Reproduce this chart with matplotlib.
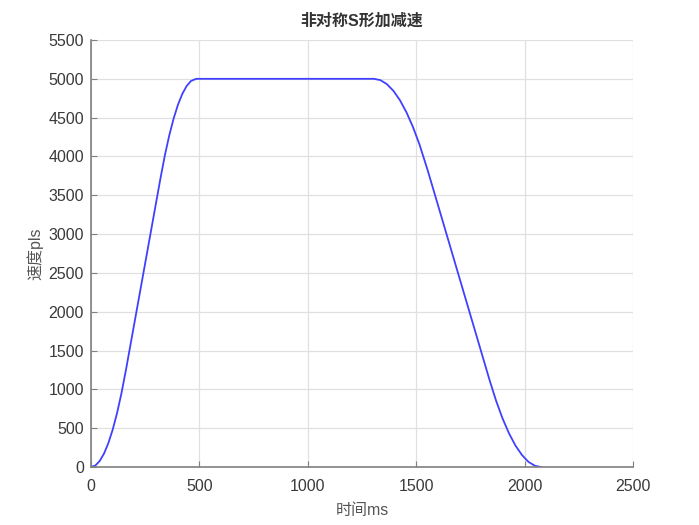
import matplotlib
matplotlib.use("Agg")
import matplotlib.pyplot as plt

plt.rcParams['font.family'] = ['Liberation Sans', 'Noto Sans CJK SC', 'DejaVu Sans']

# speed curve (time in ms, speed in pls)
t_acc = [0, 20, 40, 60, 80, 100, 120, 140, 161, 200, 250, 300, 321,
         341, 361, 381, 401, 421, 441, 461, 485]
v_acc = [0, 19, 77, 173, 308, 481, 693, 944, 1248, 1852, 2627, 3402, 3728,
         4019, 4272, 4488, 4666, 4805, 4907, 4972, 5000]

t_dec = [1305, 1335, 1365, 1395, 1425, 1455, 1485, 1515, 1552, 1600, 1700, 1800,
         1838, 1868, 1898, 1928, 1958, 1988, 2018, 2048, 2075]
v_dec = [5000, 4983, 4931, 4845, 4724, 4569, 4379, 4155, 3830, 3377, 2430, 1483,
         1123, 857, 627, 433, 275, 153, 65, 15, 0]

t_all = t_acc + t_dec
v_all = v_acc + v_dec

x_ticks = [0, 500, 1000, 1500, 2000, 2500]
y_ticks = list(range(0, 5501, 500))

title = "非对称S形加减速"
xlab = "时间ms"
ylab = "速度pls"

fig = plt.figure(figsize=(6.99, 5.25), dpi=100)
ax = fig.add_axes([0.1302, 0.1105, 0.7754, 0.8133])

ax.plot(t_all, v_all, color=(0.25, 0.25, 1.0), lw=1.3)

ax.set_xlim(0, 2500)
ax.set_ylim(0, 5500)
ax.set_xticks(x_ticks)
ax.set_yticks(y_ticks)
ax.grid(True, color="#e0e0e0", lw=0.9)
ax.set_axisbelow(True)

for s in ["top", "right"]:
    ax.spines[s].set_visible(False)
for s in ["left", "bottom"]:
    ax.spines[s].set_color("#808080")
    ax.spines[s].set_linewidth(1.2)

ax.tick_params(direction="in", length=4, color="#808080", labelsize=11.5,
               labelcolor="#3a3a3a", pad=5)
ax.tick_params(axis="x", pad=9)

ax.set_title(title, fontsize=11.5, fontweight="bold", color="#333333", pad=10)
ax.set_xlabel(xlab, fontsize=11.5, color="#555555", labelpad=6)
ax.set_ylabel(ylab, fontsize=11.5, color="#555555", labelpad=4)

fig.savefig("out.png", dpi=100)
